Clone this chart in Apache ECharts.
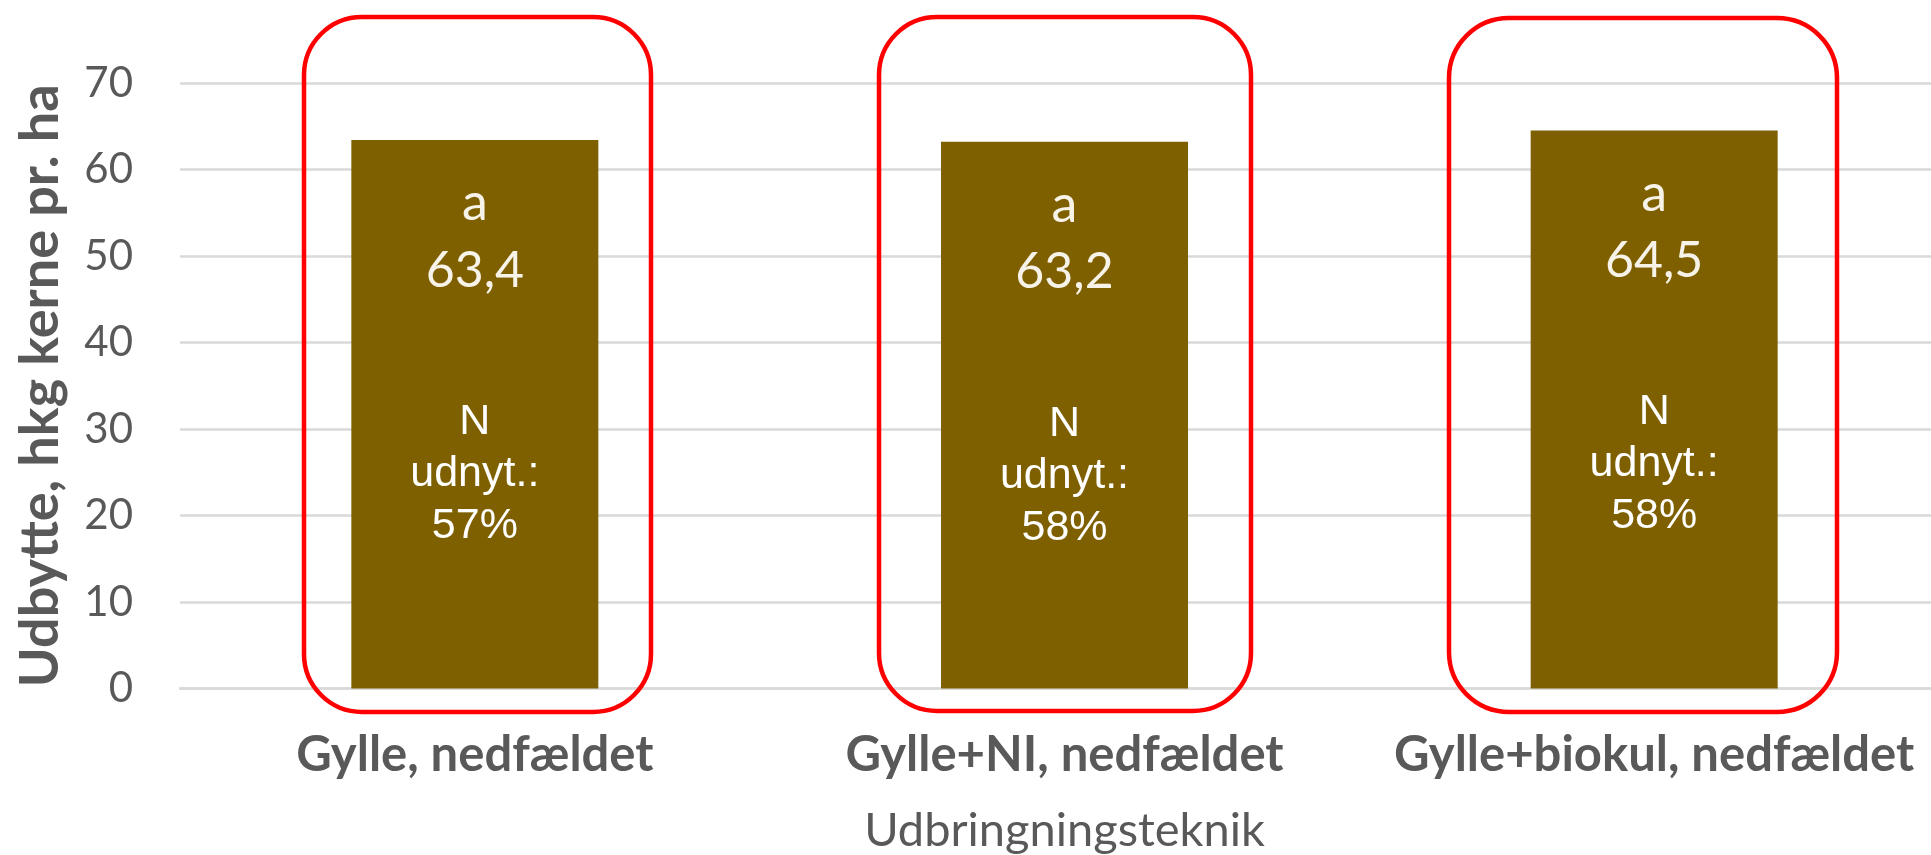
<!DOCTYPE html>
<html>
<head>
<meta charset="utf-8">
<title>Udbytte</title>
<script src="https://cdn.jsdelivr.net/npm/echarts@6/dist/echarts.min.js"></script>
<style>
  html, body { margin: 0; padding: 0; background: #ffffff; }
  #chart { width: 1931px; height: 855px; }
</style>
</head>
<body>
<div id="chart"></div>
<script>
// Treatments (x categories)
const categories = ['Gylle, nedfældet', 'Gylle+NI, nedfældet', 'Gylle+biokul, nedfældet'];
// Yield, hkg kerne pr. ha
const yields = [63.4, 63.2, 64.5];
// Statistical grouping letters
const letters = ['a', 'a', 'a'];
// N utilisation, %
const nUtilisation = [57, 58, 58];
// Y axis ticks
const yTicks = { min: 0, max: 70, step: 10 };

const chart = echarts.init(document.getElementById('chart'), null, { renderer: 'canvas' });

const gray = '#595959';
const calibriLike = 'Lato, "Open Sans", sans-serif';
const arialLike = '"Liberation Sans", Arial, sans-serif';

function fmt(v) {
  return v.toFixed(1).replace('.', ',');
}

const option = {
  backgroundColor: '#ffffff',
  animation: false,
  grid: { left: 180, top: 83, width: 1769, height: 605.5, containLabel: false, outerBoundsMode: 'none' },
  xAxis: {
    type: 'category',
    data: categories,
    name: 'Udbringningsteknik',
    nameLocation: 'middle',
    nameGap: 119,
    nameTextStyle: { fontFamily: calibriLike, fontSize: 47, color: gray, lineHeight: 47 },
    axisLine: { show: true, lineStyle: { color: '#d9d9d9', width: 2.5 } },
    axisTick: { show: false },
    axisLabel: {
      margin: 40,
      fontFamily: calibriLike,
      fontWeight: 'bold',
      fontSize: 49,
      lineHeight: 53,
      color: gray,
      interval: 0
    }
  },
  yAxis: {
    type: 'value',
    min: yTicks.min,
    max: yTicks.max,
    interval: yTicks.step,
    name: 'Udbytte, hkg kerne pr. ha',
    nameLocation: 'middle',
    nameGap: 110,
    nameRotate: 90,
    nameTextStyle: { fontFamily: calibriLike, fontWeight: 'bold', fontSize: 54, color: gray, lineHeight: 58 },
    axisLine: { show: false },
    axisTick: { show: false },
    axisLabel: { margin: 47, fontFamily: calibriLike, fontSize: 42, color: gray },
    splitLine: { show: true, lineStyle: { color: '#d9d9d9', width: 2.5 } }
  },
  series: [{
    type: 'bar',
    data: yields,
    barWidth: 247,
    itemStyle: { color: '#7f6000' },
    label: {
      show: true,
      position: 'insideTop',
      distance: 30,
      formatter: function (p) {
        const i = p.dataIndex;
        return '{l|' + letters[i] + '}\n{v|' + fmt(p.value) + '}\n{gap|}\n{n|N}\n{n|udnyt.:}\n{n|' + nUtilisation[i] + '%}';
      },
      rich: {
        l: { fontFamily: calibriLike, fontSize: 52, lineHeight: 67, color: '#f7f3e8', align: 'center' },
        v: { fontFamily: calibriLike, fontSize: 50, lineHeight: 67, color: '#f7f3e8', align: 'center' },
        gap: { fontSize: 10, lineHeight: 92 },
        n: { fontFamily: arialLike, fontSize: 43, lineHeight: 52, color: '#ffffff', align: 'center' }
      }
    }
  }],
  graphic: [
    { type: 'rect', z: 100, shape: { x: 304, y: 17, width: 347, height: 695, r: 58 }, style: { fill: 'none', stroke: '#ff0000', lineWidth: 4.5 } },
    { type: 'rect', z: 100, shape: { x: 879, y: 17, width: 372, height: 694, r: 58 }, style: { fill: 'none', stroke: '#ff0000', lineWidth: 4.5 } },
    { type: 'rect', z: 100, shape: { x: 1449, y: 18, width: 388, height: 694, r: 60 }, style: { fill: 'none', stroke: '#ff0000', lineWidth: 4.5 } }
  ]
};

chart.setOption(option);
</script>
</body>
</html>
